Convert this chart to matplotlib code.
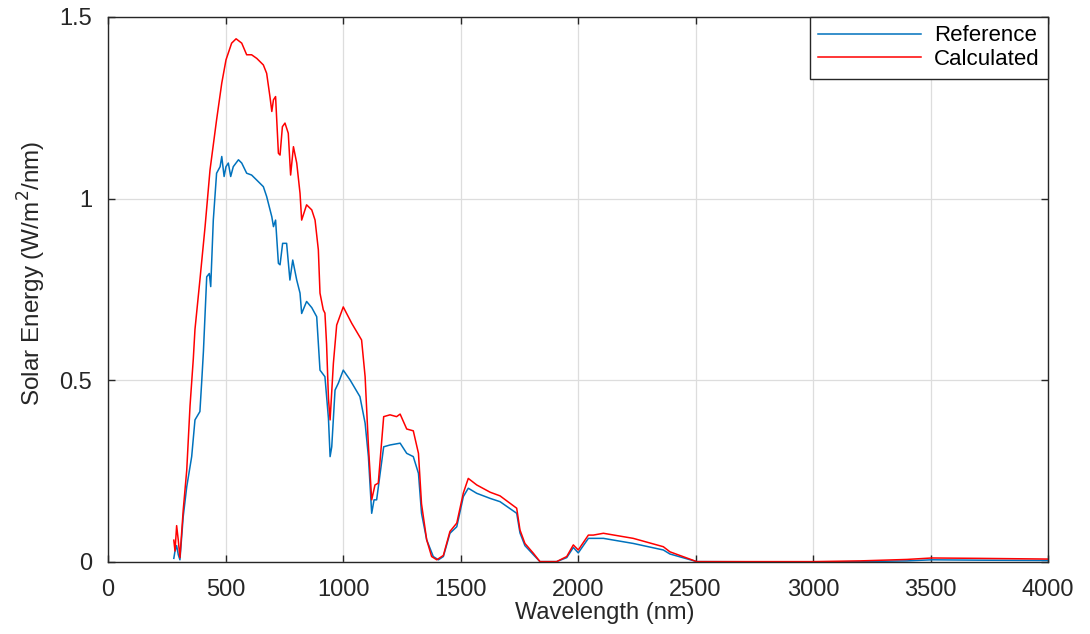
import matplotlib.pyplot as plt

plt.rcParams['font.family'] = ['Liberation Sans', 'DejaVu Sans']

# reference spectrum (blue)
wl_ref = [280, 285, 292, 299, 306, 320, 335, 356, 370, 391, 399, 406, 420, 431, 437,
          448, 462, 477, 484, 494, 502, 512, 522, 533, 555, 569, 590, 611, 633, 661,
          675, 697, 704, 713, 725, 732, 743, 760, 774, 786, 803, 817, 824, 845, 867,
          888, 902, 923, 938, 945, 952, 966, 980, 1001, 1030, 1072, 1094, 1108, 1122, 1132,
          1143, 1173, 1200, 1243, 1271, 1299, 1321, 1334, 1356, 1384, 1406, 1427, 1455, 1484, 1512,
          1533, 1569, 1626, 1668, 1739, 1753, 1774, 1810, 1838, 1909, 1952, 1980, 2001, 2044, 2065,
          2108, 2235, 2363, 2391, 2505, 3000, 3200, 3400, 3505, 3700, 4000]
val_ref = [0.01, 0.03, 0.045, 0.02, 0.006, 0.125, 0.207, 0.29, 0.391, 0.414, 0.50, 0.58, 0.785, 0.794, 0.758,
           0.941, 1.07, 1.088, 1.116, 1.061, 1.088, 1.098, 1.061, 1.088, 1.107, 1.098, 1.07, 1.065, 1.051, 1.033,
           1.006, 0.95, 0.923, 0.941, 0.822, 0.818, 0.877, 0.877, 0.776, 0.831, 0.776, 0.74, 0.684, 0.717, 0.70,
           0.675, 0.528, 0.51, 0.395, 0.29, 0.317, 0.473, 0.492, 0.528, 0.501, 0.455, 0.382, 0.29, 0.134, 0.171,
           0.171, 0.317, 0.322, 0.327, 0.299, 0.29, 0.244, 0.134, 0.061, 0.015, 0.006, 0.015, 0.079, 0.097, 0.18,
           0.203, 0.189, 0.175, 0.166, 0.134, 0.08, 0.045, 0.02, 0.001, 0.001, 0.012, 0.04, 0.025, 0.065, 0.065,
           0.065, 0.051, 0.033, 0.022, 0.001, 0.0, 0.001, 0.003, 0.006, 0.005, 0.004]

# calculated spectrum (red)
wl_calc = [280, 285, 292, 299, 306, 320, 335, 349, 363, 370, 391, 413, 434, 462, 484,
           502, 526, 545, 569, 590, 611, 633, 661, 675, 689, 697, 704, 713, 725, 732,
           742, 753, 767, 777, 789, 803, 817, 824, 845, 867, 881, 895, 902, 916, 923,
           930, 938, 945, 959, 973, 1001, 1037, 1079, 1094, 1108, 1122, 1136, 1150, 1173, 1200,
           1228, 1243, 1271, 1299, 1321, 1334, 1356, 1377, 1399, 1427, 1455, 1484, 1512, 1533, 1569,
           1626, 1668, 1739, 1753, 1774, 1810, 1838, 1909, 1952, 1980, 2001, 2044, 2065, 2108, 2235,
           2363, 2391, 2505, 3000, 3200, 3400, 3505, 3700, 4000]
val_calc = [0.06, 0.03, 0.10, 0.06, 0.012, 0.143, 0.253, 0.43, 0.56, 0.64, 0.776, 0.923, 1.079, 1.217, 1.318,
            1.382, 1.428, 1.44, 1.428, 1.396, 1.396, 1.386, 1.368, 1.345, 1.281, 1.24, 1.272, 1.281, 1.125, 1.12,
            1.198, 1.208, 1.18, 1.065, 1.143, 1.098, 1.015, 0.941, 0.983, 0.969, 0.941, 0.859, 0.74, 0.694, 0.685,
            0.60, 0.45, 0.391, 0.547, 0.652, 0.702, 0.657, 0.611, 0.51, 0.32, 0.171, 0.212, 0.217, 0.40, 0.405,
            0.40, 0.407, 0.366, 0.361, 0.299, 0.16, 0.061, 0.015, 0.006, 0.018, 0.084, 0.107, 0.19, 0.23, 0.212,
            0.192, 0.182, 0.148, 0.088, 0.051, 0.024, 0.001, 0.001, 0.015, 0.047, 0.033, 0.074, 0.074, 0.079, 0.065,
            0.042, 0.028, 0.001, 0.001, 0.003, 0.007, 0.011, 0.01, 0.008]

x_ticks = [0, 500, 1000, 1500, 2000, 2500, 3000, 3500, 4000]
y_ticks = [0, 0.5, 1, 1.5]
y_labels = ["0", "0.5", "1", "1.5"]

fig = plt.figure(figsize=(10.9, 6.34), dpi=100)
ax = fig.add_axes([0.0991, 0.1136, 0.8624, 0.8596])

ax.plot(wl_ref, val_ref, color="#0072BD", lw=1.1, label="Reference")
ax.plot(wl_calc, val_calc, color="#FF0000", lw=1.1, label="Calculated")

ax.set_xlim(0, 4000)
ax.set_ylim(0, 1.5)
ax.set_xticks(x_ticks)
ax.set_yticks(y_ticks)
ax.set_yticklabels(y_labels)
ax.grid(True, color="#dddddd", lw=0.9)
ax.set_axisbelow(True)
ax.tick_params(direction="in", length=5, width=1, colors="#262626", labelsize=17,
               top=True, right=True)
ax.tick_params(axis="x", pad=12)
ax.tick_params(axis="y", pad=11.5)
for s in ax.spines.values():
    s.set_color("#262626")
    s.set_linewidth(1)

ax.set_xlabel("Wavelength (nm)", fontsize=17, color="#262626")
ax.xaxis.set_label_coords(0.528, -0.073)
ax.set_ylabel("Solar Energy (W/m$^2$/nm)", fontsize=17.5, color="#262626")
ax.yaxis.set_label_coords(-0.081, 0.53)
ax.yaxis.label.set_va("center")

leg = ax.legend(loc="upper right", fontsize=16, fancybox=False, framealpha=1,
                edgecolor="#262626", borderaxespad=0, handlelength=4.6,
                labelspacing=0.12, borderpad=0.38, handletextpad=0.6)
leg.get_frame().set_linewidth(1)

plt.savefig("out.png", dpi=100)
